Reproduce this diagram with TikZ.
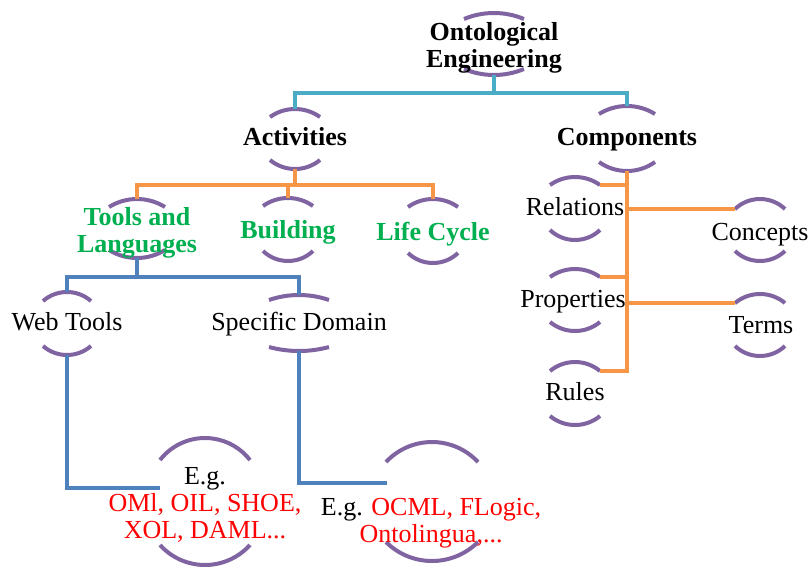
\documentclass[tikz,border=0pt]{standalone}
\usepackage{fontspec}
\setmainfont{Liberation Serif}
\definecolor{brkpurple}{HTML}{8064A2}
\definecolor{lnteal}{HTML}{4BACC6}
\definecolor{lnorange}{HTML}{F79646}
\definecolor{lnblue}{HTML}{4F81BD}
\definecolor{txtgreen}{HTML}{00B050}
\definecolor{txtred}{HTML}{FF0000}

% A pair of arcs above and below a label.
% #1 name, #2 centre x, #3 top apex y, #4 bottom apex y,
% #5 half chord, #6 top sagitta, #7 bottom sagitta
\newcommand\brk[7]{%
  \pgfmathsetmacro\bkRt{(#5*#5+#6*#6)/(2*#6)}%
  \pgfmathsetmacro\bkAt{asin(#5/\bkRt)}%
  \pgfmathsetmacro\bkRb{(#5*#5+#7*#7)/(2*#7)}%
  \pgfmathsetmacro\bkAb{asin(#5/\bkRb)}%
  \coordinate (#1-t) at (#2,#3);
  \coordinate (#1-b) at (#2,#4);
  \coordinate (#1-tl) at (#2-#5,#3+#6);
  \coordinate (#1-tr) at (#2+#5,#3+#6);
  \draw[bracket] (#1-tl) arc[start angle=270-\bkAt, end angle=270+\bkAt, radius=\bkRt];
  \draw[bracket] (#2-#5,#4-#7) arc[start angle=90+\bkAb, end angle=90-\bkAb, radius=\bkRb];
}

\begin{document}
\begin{tikzpicture}[x=1pt,y=-1pt,
  bracket/.style={draw=brkpurple, line width=4pt},
  lbl/.style={font=\fontsize{26}{27}\selectfont, inner sep=0pt, anchor=base, align=center},
  hd/.style={lbl, font=\fontsize{26}{27}\selectfont\bfseries},
  sub/.style={hd, text=txtgreen},
  tealline/.style={draw=lnteal, line width=4pt},
  orangeline/.style={draw=lnorange, line width=4pt},
  blueline/.style={draw=lnblue, line width=4pt}]
\useasboundingbox (0,0) rectangle (810,570);

% arcs around every label
\brk{onto}{494}{13}{75}{30}{6}{6}
\brk{act}{295}{109}{169}{25}{8}{9}
\brk{comp}{627}{106}{171}{28}{8}{9}
\brk{tools}{137}{199}{258}{28}{8}{8}
\brk{build}{288}{198}{261}{25}{8}{10}
\brk{life}{433}{199}{263}{25}{8}{10}
\brk{web}{67}{292}{355}{24}{9}{9}
\brk{spec}{299}{295}{351}{30}{5}{4}
\brk{eg1}{205}{438}{565}{45}{22}{20}
\brk{eg2}{432}{442}{561}{46}{20}{19}
\brk{rel}{575}{177}{240}{25}{8}{10}
\brk{prop}{575}{269}{331}{25}{8}{9}
\brk{rules}{575}{362}{425}{25}{9}{9}
\brk{conc}{760}{199}{261}{25}{10}{10}
\brk{terms}{760}{294}{356}{25}{9}{10}

% labels (a multi-line label sits on the baseline of its last line)
\node[hd] (onto) at (494,67) {Ontological\\Engineering};
\node[hd] (act) at (295,145) {Activities};
\node[hd] (comp) at (627,145) {Components};
\node[sub] (tools) at (137,252) {Tools and\\Languages};
\node[sub] (build) at (288,238) {Building};
\node[sub] (life) at (433,240) {Life Cycle};
\node[lbl] (web) at (67,330) {Web Tools};
\node[lbl] (spec) at (299,330) {Specific Domain};
\node[lbl] (eg1) at (205,538) {E.g.\\\textcolor{txtred}{OMl, OIL, SHOE,}\\\textcolor{txtred}{XOL, DAML...}};
\node[lbl] (eg2) at (431,542) {E.g. \textcolor{txtred}{OCML, FLogic,}\\\textcolor{txtred}{Ontolingua,...}};
\node[lbl] (rel) at (575,215) {Relations};
\node[lbl] (prop) at (573,307) {Properties};
\node[lbl] (rules) at (575,400) {Rules};
\node[lbl] (conc) at (760,240) {Concepts};
\node[lbl] (terms) at (761,333) {Terms};

% junctions and free ends
\coordinate (j1) at (494,93);
\coordinate (j2) at (295,185);
\coordinate (j3) at (137,277);
\coordinate (eg1-in) at (160,488);
\coordinate (eg2-in) at (387,483);

% connectors
\draw[tealline] (onto-b) -- (j1) -| (act-t);
\draw[tealline] (j1) -| (comp-t);
\draw[orangeline] (act-b) -- (j2) -| (tools-t);
\draw[orangeline] (j2) -| (build-t);
\draw[orangeline] (j2) -| (life-t);
\draw[blueline] (tools-b) -- (j3) -| (web-t);
\draw[blueline] (j3) -| (spec-t);
\draw[blueline] (web-b) |- (eg1-in);
\draw[blueline] (spec-b) |- (eg2-in);
\draw[orangeline] (comp-b) |- (rules-tr);
\draw[orangeline] (rel-tr) -- (rel-tr -| comp-b);
\draw[orangeline] (prop-tr) -- (prop-tr -| comp-b);
\draw[orangeline] (conc-tl) -- (conc-tl -| comp-b);
\draw[orangeline] (terms-tl) -- (terms-tl -| comp-b);
\end{tikzpicture}
\end{document}
